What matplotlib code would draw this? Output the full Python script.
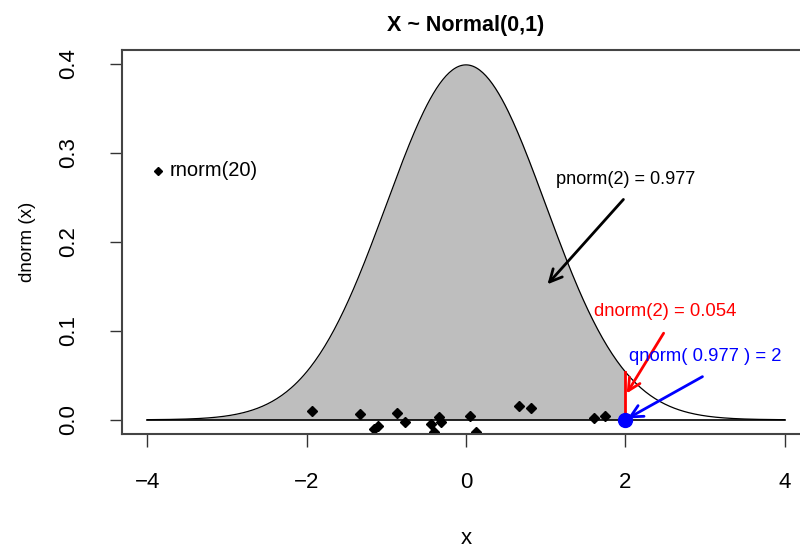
import numpy as np
import matplotlib
matplotlib.use("Agg")
import matplotlib.pyplot as plt

plt.rcParams['font.family'] = ['Liberation Sans', 'DejaVu Sans']

# sample points (rnorm(20))
pts_x = [-1.93, -1.33, -1.15, -1.10, -0.87, -0.76, -0.44, -0.40, -0.34, -0.31,
         0.05, 0.13, 0.67, 0.81, 1.61, 1.75]
pts_y = [0.010, 0.006, -0.010, -0.007, 0.008, -0.002, -0.005, -0.014, 0.003, -0.003,
         0.004, -0.014, 0.015, 0.013, 0.002, 0.004]

x_ticks = [-4, -2, 0, 2, 4]
y_ticks = [0.0, 0.1, 0.2, 0.3, 0.4]
q = 2
p_val = 0.977
d_val = 0.054

xs = np.linspace(-4, 4, 400)
dens = np.exp(-xs ** 2 / 2) / np.sqrt(2 * np.pi)

fig = plt.figure(figsize=(8, 5.48), dpi=100)
ax = fig.add_axes([0.1525, 0.208, 0.86, 0.7008])

ax.fill_between(xs[xs <= q], 0, dens[xs <= q], color='#bebebe', lw=0)
ax.plot(xs, dens, color='black', lw=0.9)
ax.plot([-4, 4], [0, 0], color='black', lw=1.2)

ax.plot(pts_x, pts_y, 'D', color='black', ms=5.5)

# dnorm(2)
ax.plot([q, q], [0, d_val], color='red', lw=2)
ax.annotate('', xy=(q, d_val / 2), xytext=(2.5, 0.1),
            arrowprops=dict(arrowstyle='->', color='red', lw=2, mutation_scale=22))
ax.text(2.5, 0.122, 'dnorm(2) = 0.054', color='red', ha='center', va='center', fontsize=13.3)

# pnorm(2)
ax.annotate('', xy=(1, 0.15), xytext=(2, 0.25),
            arrowprops=dict(arrowstyle='->', color='black', lw=2, mutation_scale=22))
ax.text(2, 0.27, 'pnorm(2) = 0.977', color='black', ha='center', va='center', fontsize=13.1)

# qnorm(0.977)
ax.annotate('', xy=(q, 0), xytext=(3, 0.05),
            arrowprops=dict(arrowstyle='->', color='blue', lw=2, mutation_scale=22))
ax.plot([q], [0], 'o', color='blue', ms=10)
ax.text(3, 0.071, 'qnorm( 0.977 ) = 2', color='blue', ha='center', va='center', fontsize=13.3)

# legend
ax.plot([-3.87], [0.28], 'D', color='black', ms=4.5)
ax.text(-3.72, 0.28, 'rnorm(20)', ha='left', va='center', fontsize=14.5)

ax.set_xlim(-4.32, 4.32)
ax.set_ylim(-0.016, 0.4157)
ax.set_xticks(x_ticks)
ax.set_xticklabels(['\u22124', '\u22122', '0', '2', '4'])
ax.set_yticks(y_ticks)
ax.set_yticklabels(['0.0', '0.1', '0.2', '0.3', '0.4'], rotation=90, va='center')
ax.tick_params(length=9, width=1, labelsize=16, color='#333333')
ax.tick_params(axis='x', pad=18)
ax.tick_params(axis='y', pad=22)
for s in ax.spines.values():
    s.set_color('#444444')
    s.set_linewidth(1.5)

ax.set_title('X ~ Normal(0,1)', fontsize=15.5, fontweight='bold', pad=14)
fig.text(466 / 800, 1 - 538 / 548, 'x', fontsize=16, ha='center', va='center')
fig.text(28 / 800, 1 - 242 / 548, 'dnorm (x)', fontsize=13.5, rotation=90,
         ha='center', va='center')

fig.savefig('out.png', dpi=100)
